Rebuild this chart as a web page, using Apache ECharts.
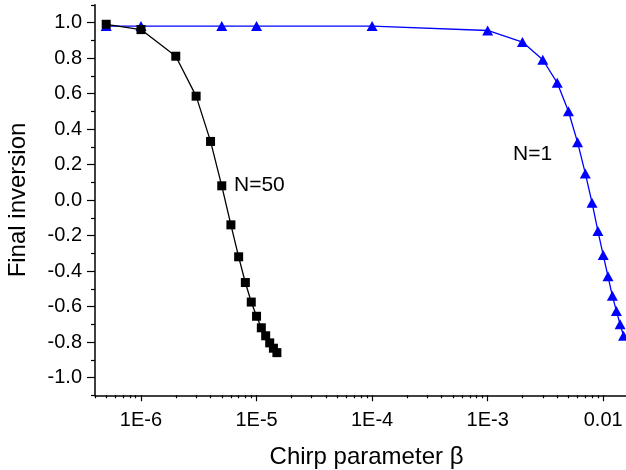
<!DOCTYPE html>
<html>
<head>
<meta charset="utf-8">
<script src="https://cdn.jsdelivr.net/npm/echarts@6/dist/echarts.min.js"></script>
<style>
  html, body { margin: 0; padding: 0; background: #fff; }
  #chart { width: 626px; height: 470px; }
</style>
</head>
<body>
<div id="chart"></div>
<script>
// Chirp parameter values (log scale) and final inversion for N = 50
const betaN50 = [5e-7, 1e-6, 2e-6, 3e-6, 4e-6, 5e-6, 6e-6, 7e-6, 8e-6, 9e-6, 1e-5, 1.1e-5, 1.2e-5, 1.3e-5, 1.4e-5, 1.5e-5];
const invN50  = [0.99, 0.96, 0.81, 0.585, 0.33, 0.08, -0.14, -0.32, -0.465, -0.575, -0.655, -0.72, -0.765, -0.805, -0.835, -0.86];

// Chirp parameter values and final inversion for N = 1
const betaN1 = [5e-7, 1e-6, 5e-6, 1e-5, 1e-4, 1e-3, 2e-3, 3e-3, 4e-3, 5e-3, 6e-3, 7e-3, 8e-3, 9e-3, 0.01, 0.011, 0.012, 0.013, 0.014, 0.015];
const invN1  = [0.98, 0.98, 0.98, 0.98, 0.98, 0.955, 0.89, 0.79, 0.66, 0.5, 0.325, 0.15, -0.015, -0.175, -0.31, -0.43, -0.54, -0.625, -0.70, -0.765];

// Axis ticks
const xTickValues = [1e-6, 1e-5, 1e-4, 1e-3, 1e-2];
const xTickLabels = ['1E-6', '1E-5', '1E-4', '1E-3', '0.01'];
const yTickValues = [-1.0, -0.8, -0.6, -0.4, -0.2, 0.0, 0.2, 0.4, 0.6, 0.8, 1.0];
const yMinorValues = [-1.1, -0.9, -0.7, -0.5, -0.3, -0.1, 0.1, 0.3, 0.5, 0.7, 0.9, 1.1];

// Minor log ticks at 2..9 within each decade of the axis range
const X_MIN = 4e-7, X_MAX = 2e-2;
const xMinorValues = [];
for (let e = -7; e <= -2; e++) {
  for (let m = 2; m <= 9; m++) {
    const v = m * Math.pow(10, e);
    if (v >= X_MIN && v <= X_MAX) xMinorValues.push(v);
  }
}

const FONT = 'Liberation Sans, Arial, sans-serif';
const pairs = (xs, ys) => xs.map((x, i) => [x, ys[i]]);

const chart = echarts.init(document.getElementById('chart'), null, { renderer: 'canvas' });

// Two identical grids: the first carries the data, labels and major ticks,
// the second only the minor ticks. The plot area runs past the right edge.
const gridBox = { left: 95, top: 4.75, width: 543, height: 390.5, containLabel: false, outerBoundsMode: 'none' };
const xBase = { type: 'log', logBase: 10, min: X_MIN, max: X_MAX, position: 'bottom', splitLine: { show: false } };
const yBase = { type: 'value', min: -1.1, max: 1.1, position: 'left', splitLine: { show: false } };

chart.setOption({
  animation: false,
  backgroundColor: '#ffffff',
  grid: [Object.assign({}, gridBox), Object.assign({}, gridBox)],
  xAxis: [
    Object.assign({}, xBase, {
      gridIndex: 0,
      name: 'Chirp parameter β',
      nameLocation: 'middle',
      nameGap: 50,
      nameTextStyle: { color: '#000', fontSize: 24, fontFamily: FONT },
      axisLine: { show: true, onZero: false, lineStyle: { color: '#000', width: 1.5 } },
      axisTick: { show: true, length: 6, lineStyle: { color: '#000', width: 1.2 }, customValues: xTickValues },
      axisLabel: {
        show: true, margin: 15, color: '#000', fontSize: 20, fontFamily: FONT,
        customValues: xTickValues,
        formatter: v => {
          const i = xTickValues.findIndex(t => Math.abs(Math.log10(t) - Math.log10(v)) < 1e-6);
          return i >= 0 ? xTickLabels[i] : '';
        }
      }
    }),
    Object.assign({}, xBase, {
      gridIndex: 1,
      axisLine: { show: false, onZero: false },
      axisTick: { show: true, length: 3, lineStyle: { color: '#000', width: 1.2 }, customValues: xMinorValues },
      axisLabel: { show: false }
    })
  ],
  yAxis: [
    Object.assign({}, yBase, {
      gridIndex: 0,
      name: 'Final inversion',
      nameLocation: 'middle',
      nameGap: 65,
      nameTextStyle: { color: '#000', fontSize: 24, fontFamily: FONT },
      axisLine: { show: true, onZero: false, lineStyle: { color: '#000', width: 1.5 } },
      axisTick: { show: true, length: 8, lineStyle: { color: '#000', width: 1.2 }, customValues: yTickValues },
      axisLabel: {
        show: true, margin: 13, color: '#000', fontSize: 20, fontFamily: FONT,
        customValues: yTickValues,
        formatter: v => v.toFixed(1)
      }
    }),
    Object.assign({}, yBase, {
      gridIndex: 1,
      axisLine: { show: false, onZero: false },
      axisTick: { show: true, length: 4, lineStyle: { color: '#000', width: 1.2 }, customValues: yMinorValues },
      axisLabel: { show: false }
    })
  ],
  graphic: [
    { type: 'text', left: 234, top: 175, style: { text: 'N=50', fill: '#000', font: '21px ' + FONT } },
    { type: 'text', left: 513, top: 144, style: { text: 'N=1', fill: '#000', font: '21px ' + FONT } }
  ],
  series: [
    {
      name: 'N=1',
      type: 'line',
      xAxisIndex: 0, yAxisIndex: 0,
      data: pairs(betaN1, invN1),
      symbol: 'triangle',
      symbolSize: [11, 10],
      showAllSymbol: true,
      clip: false,
      lineStyle: { color: '#0000ff', width: 1.3 },
      itemStyle: { color: '#0000ff' },
      z: 2
    },
    {
      name: 'N=50',
      type: 'line',
      xAxisIndex: 0, yAxisIndex: 0,
      data: pairs(betaN50, invN50),
      symbol: 'rect',
      symbolSize: 9,
      showAllSymbol: true,
      clip: false,
      lineStyle: { color: '#000000', width: 1.3 },
      itemStyle: { color: '#000000' },
      z: 3
    }
  ]
});
</script>
</body>
</html>
